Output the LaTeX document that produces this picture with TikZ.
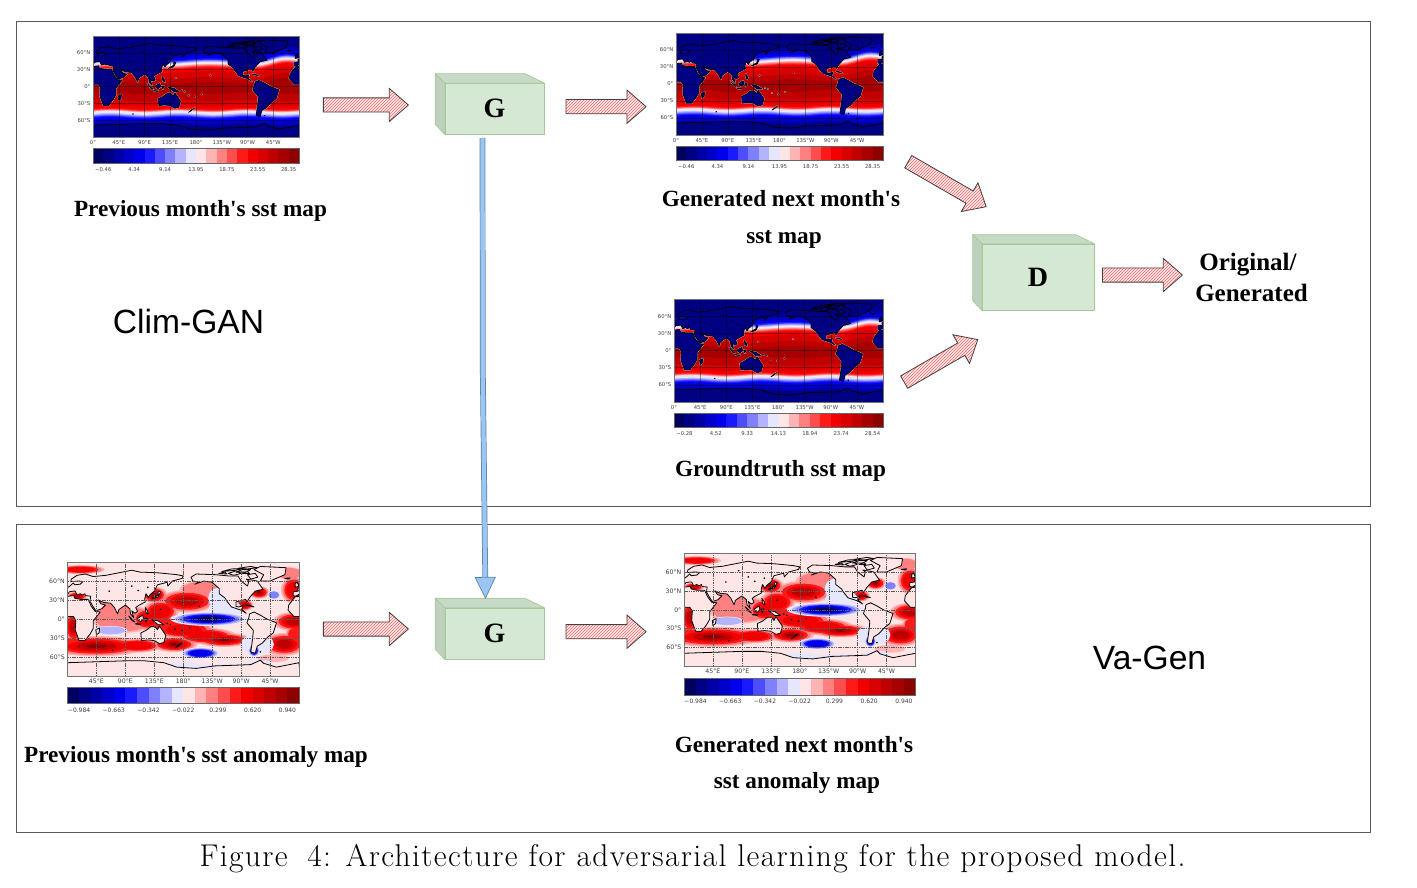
\documentclass[tikz,border=0pt]{standalone}
\usepackage{fontspec}
\usetikzlibrary{shapes.arrows,patterns,arrows.meta}
\setmainfont[Ligatures=TeXOff]{Liberation Serif}
\newfontfamily\tickf{DejaVu Sans}
\newfontfamily\sansf{Liberation Sans}
\newfontfamily\capf[LetterSpace=4.4]{Latin Modern Roman}
\definecolor{cb0}{HTML}{00005E}\definecolor{cb1}{HTML}{000082}\definecolor{cb2}{HTML}{0000A6}\definecolor{cb3}{HTML}{0000C9}
\definecolor{cb4}{HTML}{0000ED}\definecolor{cb5}{HTML}{1A1AFF}\definecolor{cb6}{HTML}{4D4DFF}\definecolor{cb7}{HTML}{8080FF}
\definecolor{cb8}{HTML}{B3B3FF}\definecolor{cb9}{HTML}{E6E6FF}\definecolor{cb10}{HTML}{FFE6E6}\definecolor{cb11}{HTML}{FFB3B3}
\definecolor{cb12}{HTML}{FF8080}\definecolor{cb13}{HTML}{FF4D4D}\definecolor{cb14}{HTML}{FF1A1A}\definecolor{cb15}{HTML}{F20000}
\definecolor{cb16}{HTML}{D90000}\definecolor{cb17}{HTML}{BF0000}\definecolor{cb18}{HTML}{A60000}\definecolor{cb19}{HTML}{8C0000}
\definecolor{boxfront}{HTML}{D5E8D4}\definecolor{boxedge}{HTML}{A5C996}\definecolor{boxtop}{HTML}{C8DAC7}\definecolor{boxside}{HTML}{BFD0BE}
\definecolor{linkblue}{HTML}{99C6F5}\definecolor{linkedge}{HTML}{5F7F9F}
\tikzset{
  framebox/.style={draw=black!65,line width=0.9pt},
  boldlabel/.style={font=\fontsize{23.2}{26}\selectfont\bfseries,anchor=base,inner sep=0pt},
  outlabel/.style={font=\fontsize{25}{28}\selectfont\bfseries,anchor=base,inner sep=0pt},
  boxlabel/.style={font=\fontsize{28}{30}\selectfont\bfseries},
  tagtext/.style={font=\sansf\fontsize{33.6}{36}\selectfont,anchor=base,inner sep=0pt},
  hatcharrow/.style={single arrow,anchor=tip,draw=black!75,line width=0.8pt,inner xsep=0pt,inner ysep=6.7pt,
    single arrow head extend=9.5pt,single arrow tip angle=82,single arrow head indent=0pt,
    minimum width=#1,preaction={fill=red!8},pattern=north east lines,pattern color=red!60},
  ticktext/.style={font=\tickf\fontsize{#1}{#1}\selectfont,text=black!75,inner sep=0pt},
}
% lon/lat land outlines
\newcommand\landmass[1]{%
 \foreach \ws in {0,360}{\begin{scope}[shift={(\ws,0)}]
  \path[#1] (-9,37)--(-9,43)--(-1,44)--(-2,48)--(5,53)--(9,57)--(11,54)--(20,55)--(24,59)--(18,60)--(5,59)--(6,63)--(15,69)--(28,71)--(40,67)--(60,69)--(75,72)--(100,77)--(113,74)--(140,73)--(170,70)--(180,68)--(178,64)--(163,60)--(156,52)--(155,58)--(140,54)--(135,44)--(128,38)--(126,34)--(122,40)--(120,32)--(121,27)--(110,21)--(106,18)--(109,12)--(105,9)--(100,13)--(103,2)--(98,8)--(97,16)--(90,22)--(80,15)--(78,8)--(73,18)--(67,25)--(57,26)--(52,28)--(48,30)--(52,24)--(59,22)--(53,16)--(44,13)--(39,21)--(35,28)--(36,36)--(28,37)--(27,40)--(23,38)--(20,40)--(15,38)--(12,44)--(9,44)--(3,43)--(0,39)--(-5,36)--cycle;
  \path[#1] (-6,35)--(10,37)--(11,33)--(20,31)--(32,31)--(37,20)--(43,12)--(51,11)--(40,-3)--(40,-15)--(35,-24)--(27,-34)--(18,-34)--(12,-17)--(13,-2)--(9,4)--(-8,4)--(-17,14)--(-16,22)--(-10,30)--cycle;
 \end{scope}}
  \path[#1] (114,-22)--(122,-18)--(130,-12)--(136,-12)--(140,-17)--(143,-11)--(153,-26)--(150,-37)--(143,-39)--(135,-34)--(125,-33)--(115,-34)--cycle;
  \path[#1] (192,66)--(200,71)--(230,70)--(250,68)--(265,68)--(270,60)--(280,52)--(282,60)--(278,63)--(295,60)--(304,47)--(292,44)--(284,35)--(279,27)--(277,31)--(270,29)--(262,27)--(262,20)--(266,19)--(273,21)--(271,15)--(278,9)--(270,14)--(255,19)--(248,28)--(245,33)--(236,40)--(236,48)--(225,58)--(212,60)--(198,55)--(205,58)--(195,60)--cycle;
  \path[#1] (283,8)--(290,11)--(300,6)--(310,0)--(325,-6)--(320,-22)--(312,-28)--(303,-38)--(295,-43)--(292,-54)--(285,-52)--(288,-30)--(289,-18)--(279,-6)--(282,2)--cycle;
  \path[#1] (300,60)--(315,60)--(338,70)--(340,81)--(300,83)--(290,78)--(305,70)--cycle;
  \path[#1] (250,72)--(262,76)--(270,72)--(258,69)--cycle;
  \path[#1] (280,70)--(292,72)--(296,66)--(285,63)--cycle;
  \path[#1] (240,75)--(255,79)--(275,80)--(262,77)--cycle;
  \path[#1] (262,74)--(272,78)--(285,78)--(278,74)--cycle;
  \path[#1] (272,72)--(280,75)--(283,72)--cycle;
  \path[#1] (235,72)--(245,74)--(248,71)--cycle;
  \path[#1] (265,80)--(285,83)--(295,81)--(280,79)--cycle;
  \path[#1] (0,-69)--(30,-68)--(60,-67)--(90,-66)--(120,-66)--(150,-69)--(170,-76)--(200,-78)--(230,-74)--(260,-73)--(285,-72)--(300,-65)--(305,-70)--(325,-76)--(345,-72)--(360,-69)--(362,-92)--(-2,-92)--cycle;
  \path[#1] (44,-17)--(50,-14)--(49,-22)--(45,-25)--cycle;
  \path[#1] (131,32)--(136,35)--(141,38)--(141,44)--(145,43)--(141,35)--(135,33)--cycle;
  \path[#1] (95,5)--(105,-5)--(101,-3)--cycle;
  \path[#1] (109,1)--(117,6)--(118,0)--(114,-4)--(110,-2)--cycle;
  \path[#1] (131,-1)--(141,-3)--(150,-9)--(141,-9)--cycle;
  \path[#1] (106,-7)--(114,-8)--(114,-9)--(106,-8)--cycle;
  \path[#1] (120,1)--(124,1)--(122,-5)--cycle;
  \path[#1] (121,18)--(124,14)--(126,8)--(122,10)--cycle;
  \path[#1] (167,-46)--(174,-40)--(178,-38)--(172,-43)--cycle;
  \path[#1] (354,50)--(360,52)--(357,58)--(354,56)--cycle;
  \path[#1] (278,22)--(285,20)--(290,19)--(283,22)--cycle;
  \path[#1] (338,64)--(346,65)--(344,63)--cycle;
  \foreach \dx/\dy in {155/-7,160/-9,167/-16,178/-18,145/15,205/20,190/-14,70/-49,300/-52,125/50,100/52,65/44,110/45,85/62}{\path[#1] (\dx,\dy) circle [radius=0.7];}
}
% grid
\newcommand\mapgrid[1]{%
  \foreach \gx in {45,90,...,315}{\draw[#1] (\gx,-90)--(\gx,90);}
  \foreach \gy in {-60,-30,0,30,60}{\draw[#1] (0,\gy)--(360,\gy);}
}
% sst field
\newcommand\sstfield{%
  \fill[cb1] (0,-90) rectangle (360,90);
  \foreach \la/\lb/\lc in {62/-70/2,57/-66/3,52/-60/4,48/-56/5,46/-54/6,45/-52.5/7,43.5/-51/8,42/-49/9,40/-45.5/10,38.5/-44.5/11,37/-43.5/12,35.5/-42.5/13,34/-41.5/14,32/-39.5/15,26/-34/16,15/-25/17,6/-12/18}{
    \fill[cb\lc] plot[domain=-2:362,samples=46] (\x,{\la+2*sin(2.2*\x)+9*exp(-((\x-335)/32)*((\x-335)/32))}) -- plot[domain=362:-2,samples=37] (\x,{\lb+1.5*sin(3*\x)}) -- cycle;}
  \begin{scope}
    \clip (0,-45) rectangle (360,42);
    \landmass{draw=white,line width=1.2pt,line join=round}
  \end{scope}
  \landmass{fill=cb1,draw=black,line width=0.7pt,line join=round}
  \mapgrid{black,opacity=0.4,line width=0.4pt}
}
% pass of soft elliptical patches: list lon/lat/rx/ry/level
\newcommand\softpatches[2]{%
  \foreach \rs/\rc [count=\rl from 1] in {#2}{
    \foreach \pa/\pb/\pc/\pd/\pe in #1{
      \ifnum\pe<\rl\else\fill[\rc] (\pa,\pb) ellipse [x radius=\pc*\rs,y radius=\pd*\rs];\fi
    }}
}
\def\redpatches{45/-43/78/16/6,8/-40/30/12/3,108/-42/40/11/4,166/-40/36/12/6,124/0/24/18/4,145/12/28/18/4,186/28/46/18/5,212/46/38/15/2,135/38/20/13/6,150/-8/30/13/3,181/-17/48/14/4,215/-27/48/13/4,243/-33/44/11/6,10/-12/15/26/5,352/-4/32/15/5,337/-40/34/18/5,352/46/20/22/4,298/42/16/10/6,275/22/14/9/6,20/78/38/7/4,15/36/16/7/5,67/15/34/18/2,88/0/50/22/2,345/72/20/10/2,320/-62/24/6/1,355/-25/16/16/3}
\def\bluepatches{220/0/60/11/7,207/-54/30/9/5,67/-18/26/7/2,233/33/14/16/1,245/15/26/16/1,295/-40/26/16/1,290/-50/9/10/4,321/38/10/7/3,181/-72/24/4/1,225/-75/70/4/1,300/-70/20/5/1}
% anomaly field
\newcommand\anomfield{%
  \fill[cb10] (0,-90) rectangle (360,90);
  \softpatches{\redpatches}{1/cb11,0.88/cb12,0.74/cb14,0.58/cb15,0.4/cb17,0.2/cb19}
  \softpatches{\bluepatches}{1/cb9,0.88/cb8,0.78/cb7,0.68/cb5,0.56/cb4,0.42/cb2,0.28/cb0}
  \landmass{fill=cb10,draw=black,line width=0.8pt,line join=round}
  \mapgrid{black!65,line width=0.35pt,dash pattern=on 1.5pt off 0.8pt}
}
% #1 name #2 x #3 y #4 w #5 h #6 field #7 font size #8 x labels
\newcommand\geomap[8]{%
  \begin{scope}[shift={(#2,{#3+#5/2})},x={#4pt/360},y={#5pt/180}]
    \begin{scope}
      \clip (0,-90) rectangle (360,90);
      #6
    \end{scope}
    \draw[black!55,line width=0.7pt] (0,-90) rectangle (360,90);
    \node[ticktext=#7,anchor=east] (#1-la) at (-2.5/#4*360,60) {60°N};
    \node[ticktext=#7,anchor=east] (#1-lb) at (-2.5/#4*360,30) {30°N};
    \node[ticktext=#7,anchor=east] (#1-lc) at (-2.5/#4*360,0) {0°};
    \node[ticktext=#7,anchor=east] (#1-ld) at (-2.5/#4*360,-30) {30°S};
    \node[ticktext=#7,anchor=east] (#1-le) at (-2.5/#4*360,-60) {60°S};
    \foreach \lp/\lq in {#8}{\node[ticktext=#7] (#1-x\lp) at (\lp,{-90-5.2/#5*180}) {\lq};}
  \end{scope}
}
% #1 name #2 x #3 y #4 w #5 h #6 font size #7 labels
\newcommand\colbar[7]{%
  \foreach \i in {0,...,19}{\fill[cb\i] ({#2+\i*#4/20},#3) rectangle ({#2+(\i+1)*#4/20+0.2*(\i<19)},{#3+#5});}
  \draw[black!60,line width=0.5pt] (#2,#3) rectangle ({#2+#4},{#3+#5});
  \foreach \l [count=\n from 0] in {#7}{\node[ticktext=#6] (#1-t\n) at ({#2+(0.05+0.15*\n)*#4},{#3+#5+6.5}) {\l};}
}
% #1 name #2 cx #3 cy #4 w #5 h #6 depth #7 label
\newcommand\solidbox[7]{%
  \node[fill=boxfront,draw=boxedge,line width=0.7pt,minimum width=#4pt,minimum height=#5pt,inner sep=0pt,boxlabel] (#1) at (#2,#3) {#7};
  \fill[boxtop,draw=boxedge,line width=0.7pt,line join=round] (#1.north west)--++(-#6,-#6)--++({#4-#6},0)--(#1.north east)--cycle;
  \fill[boxside,draw=boxedge,line width=0.7pt,line join=round] (#1.north west)--++(-#6,-#6)--++(0,#5)--(#1.south west)--cycle;
}
\begin{document}
\begin{tikzpicture}[x=1pt,y=-1pt]
\useasboundingbox (0,0) rectangle (1417,888);
\fill[white] (0,0) rectangle (1417,888);
\coordinate (frameA) at (16,21); \coordinate (frameB) at (1370,506);
\coordinate (frameC) at (16,524.5); \coordinate (frameD) at (1370,832);
\draw[framebox] (frameA) rectangle (frameB);
\draw[framebox] (frameC) rectangle (frameD);

\geomap{mapa}{93}{36}{206}{101}{\sstfield}{5.3}{0/0°,45/45°E,90/90°E,135/135°E,180/180°,225/135°W,270/90°W,315/45°W}
\colbar{bara}{93}{148}{206}{15}{5.3}{−0.46,4.34,9.14,13.95,18.75,23.55,28.35}
\geomap{mapb}{676}{33}{207}{102}{\sstfield}{5.3}{0/0°,45/45°E,90/90°E,135/135°E,180/180°,225/135°W,270/90°W,315/45°W}
\colbar{barb}{676}{146}{207}{14.5}{5.3}{−0.46,4.34,9.14,13.95,18.75,23.55,28.35}
\geomap{mapc}{674}{299}{209}{103}{\sstfield}{5.3}{0/0°,45/45°E,90/90°E,135/135°E,180/180°,225/135°W,270/90°W,315/45°W}
\colbar{barc}{674}{413}{209}{14.5}{5.3}{−0.28,4.52,9.33,14.13,18.94,23.74,28.54}
\geomap{mapd}{67.5}{562}{231.5}{114}{\anomfield}{6.2}{45/45°E,90/90°E,135/135°E,180/180°,225/135°W,270/90°W,315/45°W}
\colbar{bard}{67.5}{687}{231.5}{16.5}{6}{−0.984,−0.663,−0.342,−0.022,0.299,0.620,0.940}
\geomap{mape}{684}{553}{231.5}{113.5}{\anomfield}{6.2}{45/45°E,90/90°E,135/135°E,180/180°,225/135°W,270/90°W,315/45°W}
\colbar{bare}{684}{678}{231.5}{17}{6}{−0.984,−0.663,−0.342,−0.022,0.299,0.620,0.940}

\solidbox{genA}{494.5}{108.75}{99}{50.5}{9.5}{G}
\solidbox{genB}{494.5}{633.5}{99}{51}{9.5}{G}
\solidbox{disc}{1038}{277}{112}{66}{9}{D}

\node[hatcharrow=33pt,minimum height=85pt] (arrA) at (409,105) {};
\node[hatcharrow=33pt,minimum height=80pt] (arrB) at (646.7,106.7) {};
\node[hatcharrow=31pt,minimum height=90pt,rotate=-30] (arrC) at (986.7,207) {};
\node[hatcharrow=31pt,minimum height=85pt,rotate=30] (arrD) at (978.3,339.3) {};
\node[hatcharrow=33pt,minimum height=80pt] (arrE) at (1183,275) {};
\node[hatcharrow=33pt,minimum height=85pt] (arrF) at (409,629) {};
\node[hatcharrow=33pt,minimum height=80pt] (arrG) at (646.7,631.7) {};

\coordinate (linkS) at (482.5,138);
\coordinate (linkM) at (482.8,370);
\coordinate (linkT) at (485.5,599);
\draw[line width=0.7pt,draw=linkedge,double=linkblue,double distance=4.3pt,
  -{Triangle[length=22pt,width=21pt,fill=linkblue,color=linkedge]}] (linkS)--(linkM)--(linkT);

\node[boldlabel] (capA) at (200.5,216) {Previous month's sst map};
\node[boldlabel] (capB1) at (781,207) {Generated next month's};
\node[boldlabel] (capB2) at (784,243) {sst map};
\node[boldlabel] (capC) at (780.5,476) {Groundtruth sst map};
\node[boldlabel] (capD) at (196,762) {Previous month's sst anomaly map};
\node[boldlabel] (capE1) at (794,752.5) {Generated next month's};
\node[boldlabel] (capE2) at (797,788.5) {sst anomaly map};
\node[outlabel] (outA) at (1248,270) {Original/};
\node[outlabel] (outB) at (1251.5,301) {Generated};
\node[tagtext] (tagA) at (188.5,333) {Clim-GAN};
\node[tagtext] (tagB) at (1149.5,669) {Va-Gen};
\node[font=\capf\fontsize{31.5}{33}\selectfont,anchor=base,inner sep=0pt] (figcap) at (692.5,866) {Figure\hspace{0.62em}4: Architecture for adversarial learning for the proposed model.};
\end{tikzpicture}
\end{document}
